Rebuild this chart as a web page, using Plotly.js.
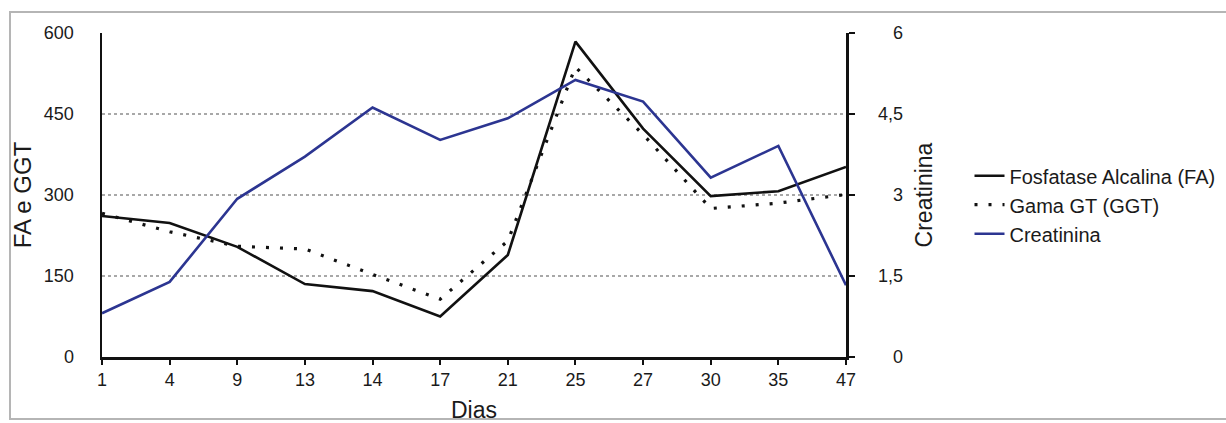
<!DOCTYPE html>
<html>
<head>
<meta charset="utf-8">
<script src="https://cdn.plot.ly/plotly-3.0.1.min.js"></script>
<style>
  html, body { margin: 0; padding: 0; background: #fff; }
  #wrap { position: relative; width: 1226px; height: 423px; overflow: hidden; }
  #chart { width: 1226px; height: 423px; }
  #frame { position: absolute; left: 9px; top: 11px; width: 1240px; height: 409px;
           border: 2px solid #b5b5b5; pointer-events: none; box-sizing: border-box; }
</style>
</head>
<body>
<div id="wrap">
  <div id="chart"></div>
  <div id="frame"></div>
</div>
<script>
// Categories (days)
const dias = ['1', '4', '9', '13', '14', '17', '21', '25', '27', '30', '35', '47'];
// Series values
const fosfataseAlcalina = [261, 248, 204, 135, 122, 75, 189, 584, 423, 298, 307, 352];
const gamaGT = [266, 232, 205, 200, 153, 107, 215, 537, 412, 275, 285, 301];
const creatinina = [0.81, 1.39, 2.93, 3.71, 4.62, 4.02, 4.42, 5.13, 4.73, 3.32, 3.91, 1.33];
// Tick labels
const leftTickVals = [0, 150, 300, 450, 600];
const leftTickText = ['0', '150', '300', '450', '600'];
const rightTickVals = [0, 1.5, 3, 4.5, 6];
const rightTickText = ['\u2007\u20080', '1,5', '\u2007\u20083', '4,5', '\u2007\u20086'];

const FONT = 'Liberation Sans, Arial, Helvetica, sans-serif';
const TXT = '#1a1a1a';

const traces = [
  {
    x: dias, y: fosfataseAlcalina, name: 'Fosfatase Alcalina (FA)',
    type: 'scatter', mode: 'lines', yaxis: 'y',
    line: { color: '#111111', width: 2.6 }
  },
  {
    x: dias, y: gamaGT, name: 'Gama GT (GGT)',
    type: 'scatter', mode: 'lines', yaxis: 'y',
    line: { color: '#111111', width: 3.2, dash: '3px,11px' }
  },
  {
    x: dias, y: creatinina, name: 'Creatinina',
    type: 'scatter', mode: 'lines', yaxis: 'y2',
    line: { color: '#2c3591', width: 2.6 }
  }
];

const layout = {
  width: 1226, height: 423,
  margin: { l: 102, r: 380, t: 33, b: 66, autoexpand: false },
  paper_bgcolor: '#ffffff', plot_bgcolor: '#ffffff',
  separators: ',.',
  font: { family: FONT, color: TXT, size: 18 },
  showlegend: true,
  legend: {
    x: 1.166, xanchor: 'left', y: 0.47, yanchor: 'middle',
    font: { family: FONT, size: 20, color: TXT },
    bgcolor: 'rgba(0,0,0,0)', tracegroupgap: 0
  },
  xaxis: {
    type: 'category', range: [0, 11],
    showline: true, linecolor: '#111', linewidth: 2.5,
    ticks: 'outside', ticklen: 5, tickwidth: 2, tickcolor: '#111',
    showgrid: false, zeroline: false,
    tickfont: { family: FONT, size: 18, color: TXT },
    title: { text: 'Dias', font: { family: FONT, size: 23, color: TXT }, standoff: 14 },
    automargin: false
  },
  yaxis: {
    range: [0, 600], tickvals: leftTickVals, ticktext: leftTickText,
    showline: true, linecolor: '#111', linewidth: 2.5,
    ticks: '', ticklabelstandoff: 22,
    showgrid: true, gridcolor: '#a8a8a8', gridwidth: 1.2, griddash: 'dot',
    zeroline: false,
    tickfont: { family: FONT, size: 18, color: TXT },
    title: { text: 'FA e GGT', font: { family: FONT, size: 24, color: TXT }, standoff: 6 },
    automargin: false
  },
  yaxis2: {
    overlaying: 'y', side: 'right', range: [0, 6],
    tickvals: rightTickVals, ticktext: rightTickText,
    showline: true, linecolor: '#111', linewidth: 2.5,
    ticks: 'outside', ticklen: 6, tickwidth: 2, tickcolor: '#111',
    ticklabelstandoff: 20,
    showgrid: false, zeroline: false,
    tickfont: { family: FONT, size: 18, color: TXT },
    title: { text: 'Creatinina', font: { family: FONT, size: 23, color: TXT }, standoff: 14 },
    automargin: false
  }
};

Plotly.newPlot('chart', traces, layout, { staticPlot: true, displayModeBar: false });
</script>
</body>
</html>
